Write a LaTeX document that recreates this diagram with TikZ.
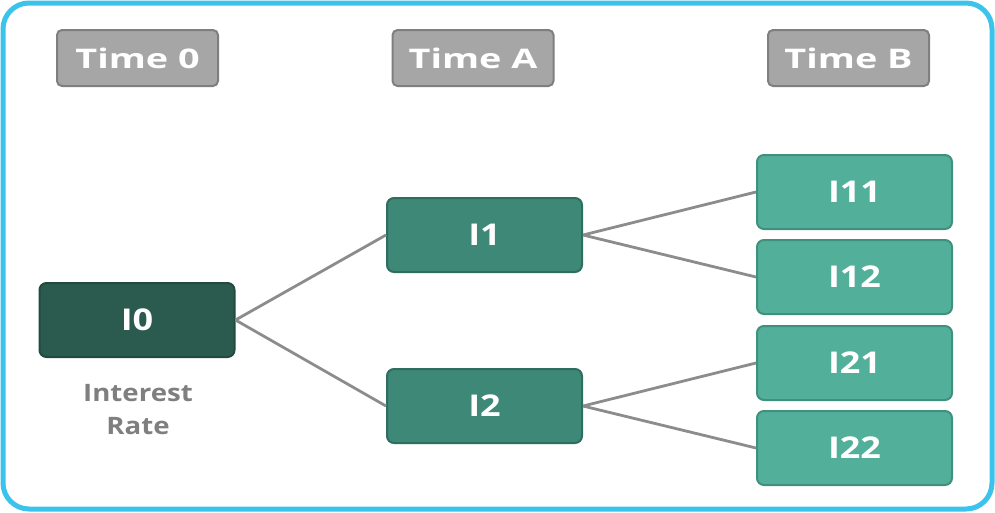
\documentclass[tikz,border=0pt]{standalone}
\usepackage{fontspec}
\setmainfont{Open Sans}
\newfontfamily\timefont[FakeStretch=1.4]{Open Sans Bold}
\newfontfamily\boxfont[FakeStretch=1.2]{Open Sans Bold}
\newfontfamily\labfont[FakeStretch=1.15]{Open Sans Bold}
\definecolor{frame}{HTML}{3CC3EC}
\definecolor{tgray}{HTML}{A6A6A6}
\definecolor{tgrayd}{HTML}{7F7F7F}
\definecolor{gzero}{HTML}{2B5A4E}
\definecolor{gzerod}{HTML}{214A40}
\definecolor{gone}{HTML}{3D8877}
\definecolor{goned}{HTML}{2F6E5F}
\definecolor{gtwo}{HTML}{52AF99}
\definecolor{gtwod}{HTML}{3F907C}
\definecolor{lnk}{HTML}{8C8C8C}
\definecolor{lab}{HTML}{7F7F7F}
\begin{document}
\begin{tikzpicture}[x=1pt,y=-1pt,
  timebox/.style={draw=tgrayd,line width=2pt,fill=tgray,rounded corners=5pt,minimum width=161pt,minimum height=56pt,text=white,font=\timefont\fontsize{27}{30}\selectfont,inner sep=0pt},
  nbox/.style={line width=2pt,rounded corners=7pt,minimum width=195pt,minimum height=74pt,text=white,font=\boxfont\fontsize{30}{32}\selectfont,inner sep=0pt},
  lvl0/.style={nbox,draw=gzerod,fill=gzero},
  lvl1/.style={nbox,draw=goned,fill=gone},
  lvl2/.style={nbox,draw=gtwod,fill=gtwo},
  link/.style={draw=lnk,line width=2.8pt}]
\useasboundingbox (0,0) rectangle (995,512);
\draw[frame,line width=5pt,rounded corners=26pt] (3,3) rectangle (992,509);
\node[timebox] (t0) at (137.5,58) {Time 0};
\node[timebox] (ta) at (473,58) {Time A};
\node[timebox] (tb) at (848.5,58) {Time B};
\node[lvl0] (i0) at (137,320) {I0};
\node[lvl1] (i1) at (484.5,235) {I1};
\node[lvl1] (i2) at (484.5,406) {I2};
\node[lvl2] (i11) at (854.5,192) {I11};
\node[lvl2] (i12) at (854.5,277) {I12};
\node[lvl2] (i21) at (854.5,363) {I21};
\node[lvl2] (i22) at (854.5,448) {I22};
\node[text=lab,font=\labfont\fontsize{24}{33}\selectfont,align=center] (ir) at (138,410) {Interest\\Rate};
\draw[link] (i0.east) -- (i1.west);
\draw[link] (i0.east) -- (i2.west);
\draw[link] (i1.east) -- (i11.west);
\draw[link] (i1.east) -- (i12.west);
\draw[link] (i2.east) -- (i21.west);
\draw[link] (i2.east) -- (i22.west);
\end{tikzpicture}
\end{document}
